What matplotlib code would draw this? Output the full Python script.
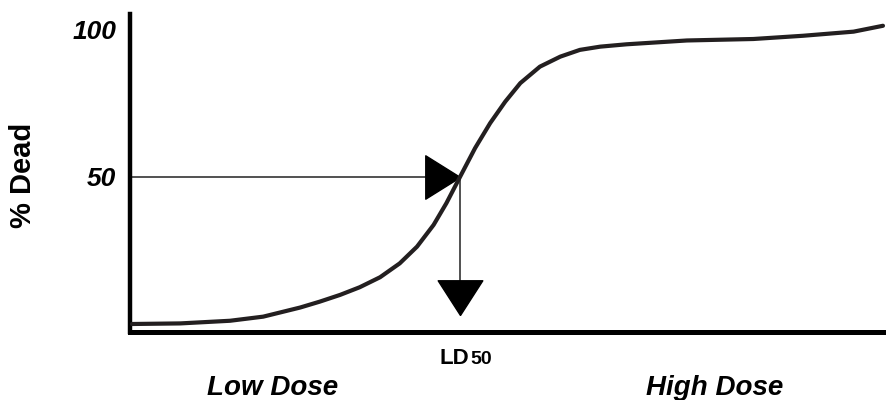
import matplotlib
matplotlib.use('Agg')
import matplotlib.pyplot as plt

# dose-response curve (dose on a 0-100 scale, % dead)
dose = [0, 6.4, 13, 17.4, 22.3, 24.9, 27.6, 30.2, 32.9, 35.5, 37.8, 40.0,
        41.7, 43.5, 45.5, 47.5, 49.5, 51.5, 54.1, 56.8, 59.4, 62.1, 65.6,
        73.6, 82.4, 89.0, 95.7, 99.6]
pct_dead = [0, 0.2, 1.1, 2.5, 5.6, 7.6, 9.9, 12.5, 15.9, 20.6, 26.3, 33.7,
            41.1, 50, 59.8, 68.3, 75.6, 81.9, 87.5, 90.9, 93.2, 94.3, 95.1,
            96.4, 96.9, 98.0, 99.4, 101.4]
ld50 = 43.5
y_ticks = [50, 100]
y_ticklabels = ['50', '100']

plt.rcParams['font.family'] = ['Liberation Sans', 'DejaVu Sans']

fig = plt.figure(figsize=(8.86, 4), dpi=100)
ax = fig.add_axes([0.1467, 0.17125, 0.8533, 0.79375])

ax.plot(dose, pct_dead, color='#231f20', linewidth=3, solid_capstyle='round',
        solid_joinstyle='round', zorder=4)

# guide lines from the axis to the LD50 point and down
ax.plot([0, ld50], [50, 50], color='#333333', linewidth=1.2, zorder=2)
ax.plot([ld50, ld50], [50, 8], color='#333333', linewidth=1.2, zorder=2)

right_tri = [(0, 0), (-0.8, 0.5), (-0.8, -0.5), (0, 0)]
down_tri = [(0, 0), (-22.5, 35), (22.5, 35), (0, 0)]
ax.plot([ld50], [50], marker=right_tri, markersize=50, color='black',
        linestyle='none', zorder=3)
ax.plot([ld50], [3], marker=down_tri, markersize=50, color='black',
        linestyle='none', zorder=3)

ax.set_xlim(-0.27, 100)
ax.set_ylim(-2.55, 105.4)

for side in ['top', 'right']:
    ax.spines[side].set_visible(False)
ax.spines['left'].set_linewidth(3.2)
ax.spines['bottom'].set_linewidth(3.6)

ax.set_xticks([])
ax.set_yticks(y_ticks)
ax.set_yticklabels(y_ticklabels, fontsize=19, fontweight='bold', style='italic')
ax.tick_params(axis='y', length=0, pad=10)

fig.text(23 / 886, 1 - 175 / 400, '% Dead', rotation=90, fontsize=21,
         fontweight='bold', ha='center', va='center')

fig.text(469 / 886, 1 - 364 / 400, 'LD', fontsize=16, fontweight='bold',
         ha='right', va='baseline')
fig.text(470 / 886, 1 - 364 / 400, '50', fontsize=14, fontweight='bold',
         ha='left', va='baseline')

fig.text(273 / 886, 1 - 388 / 400, 'Low Dose', fontsize=20, fontweight='bold',
         style='italic', ha='center', va='center')
fig.text(715 / 886, 1 - 388 / 400, 'High Dose', fontsize=20, fontweight='bold',
         style='italic', ha='center', va='center')

fig.savefig('out.png', dpi=100)
